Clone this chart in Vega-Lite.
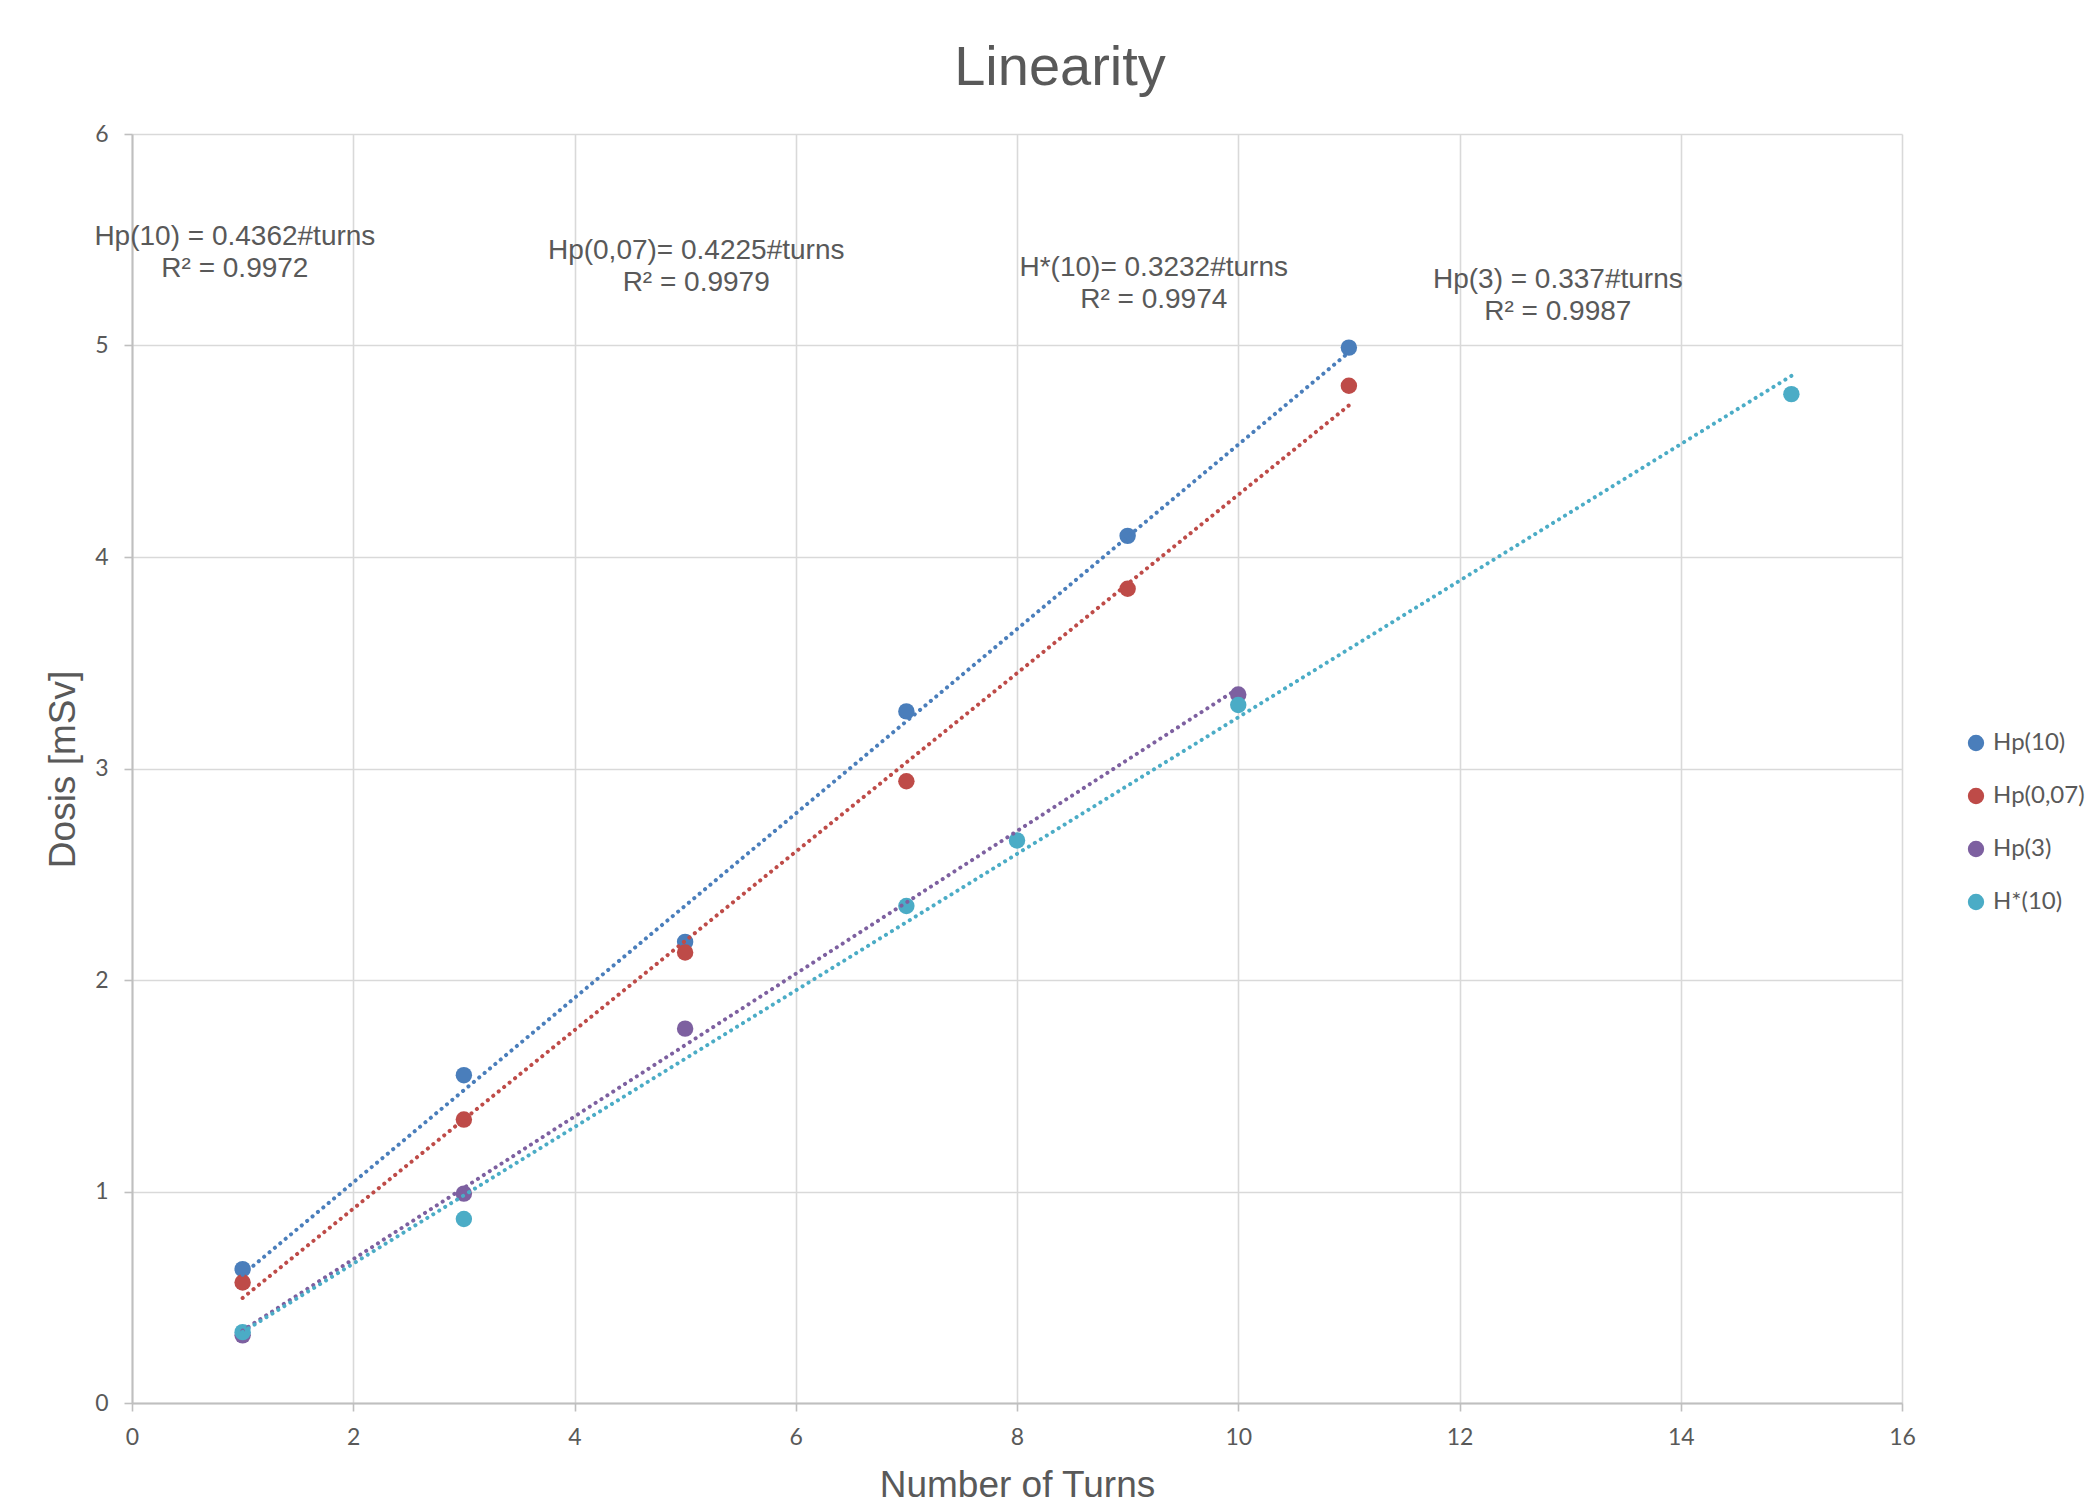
{
  "$schema": "https://vega.github.io/schema/vega-lite/v6.json",
  "autosize": "none",
  "width": 1770,
  "height": 1269,
  "padding": {"left": 132, "top": 134, "right": 197, "bottom": 100},
  "background": "white",
  "title": {
    "text": "Linearity",
    "font": "Liberation Sans",
    "fontSize": 56,
    "fontWeight": "normal",
    "color": "#595959",
    "anchor": "middle",
    "frame": "group",
    "dx": 43,
    "dy": 66,
    "baseline": "alphabetic",
    "offset": 48
  },
  "config": {
    "view": {"stroke": null},
    "axis": {
      "gridColor": "#d9d9d9",
      "gridWidth": 1.6,
      "domainColor": "#bfbfbf",
      "domainWidth": 2,
      "tickColor": "#bfbfbf",
      "tickWidth": 1.6,
      "tickSize": 8,
      "labelFont": "Lato",
      "labelFontSize": 23,
      "labelColor": "#595959",
      "labelFlush": false,
      "titleFont": "Liberation Sans",
      "titleFontSize": 37,
      "titleFontWeight": "normal",
      "titleColor": "#595959"
    }
  },
  "data": {
    "values": [
      {"Series": "Hp(10)", "Turns": 1, "Dose": 0.633},
      {"Series": "Hp(10)", "Turns": 3, "Dose": 1.55},
      {"Series": "Hp(10)", "Turns": 5, "Dose": 2.18},
      {"Series": "Hp(10)", "Turns": 7, "Dose": 3.27},
      {"Series": "Hp(10)", "Turns": 9, "Dose": 4.10},
      {"Series": "Hp(10)", "Turns": 11, "Dose": 4.99},
      {"Series": "Hp(0,07)", "Turns": 1, "Dose": 0.57},
      {"Series": "Hp(0,07)", "Turns": 3, "Dose": 1.34},
      {"Series": "Hp(0,07)", "Turns": 5, "Dose": 2.13},
      {"Series": "Hp(0,07)", "Turns": 7, "Dose": 2.94},
      {"Series": "Hp(0,07)", "Turns": 9, "Dose": 3.85},
      {"Series": "Hp(0,07)", "Turns": 11, "Dose": 4.81},
      {"Series": "Hp(3)", "Turns": 1, "Dose": 0.32},
      {"Series": "Hp(3)", "Turns": 3, "Dose": 0.99},
      {"Series": "Hp(3)", "Turns": 5, "Dose": 1.77},
      {"Series": "Hp(3)", "Turns": 10, "Dose": 3.35},
      {"Series": "H*(10)", "Turns": 1, "Dose": 0.335},
      {"Series": "H*(10)", "Turns": 3, "Dose": 0.87},
      {"Series": "H*(10)", "Turns": 7, "Dose": 2.35},
      {"Series": "H*(10)", "Turns": 8, "Dose": 2.66},
      {"Series": "H*(10)", "Turns": 10, "Dose": 3.30},
      {"Series": "H*(10)", "Turns": 15, "Dose": 4.77}
    ]
  },
  "layer": [
    {
      "mark": {"type": "circle", "size": 270, "opacity": 1},
      "encoding": {
        "x": {
          "field": "Turns", "type": "quantitative",
          "scale": {"domain": [0, 16], "nice": false},
          "axis": {"values": [0, 2, 4, 6, 8, 10, 12, 14, 16], "format": "d", "title": "Number of Turns", "labelPadding": 15, "titleX": 885, "titleY": 93, "titleBaseline": "alphabetic", "titleAnchor": null}
        },
        "y": {
          "field": "Dose", "type": "quantitative",
          "scale": {"domain": [0, 6], "nice": false},
          "axis": {"values": [0, 1, 2, 3, 4, 5, 6], "format": "d", "title": "Dosis [mSv]", "labelPadding": 16, "titleX": -69, "titleY": 635, "titleBaseline": "middle", "titleAlign": "center"}
        },
        "color": {
          "field": "Series", "type": "nominal",
          "scale": {"domain": ["Hp(10)", "Hp(0,07)", "Hp(3)", "H*(10)"], "range": ["#4a7ebb", "#be4b48", "#7d60a0", "#4bacc6"]},
          "legend": {
            "title": null,
            "orient": "none",
            "legendX": 1832,
            "legendY": 597,
            "padding": 0,
            "symbolType": "circle",
            "symbolSize": 220,
            "symbolOpacity": 1,
            "labelFont": "Lato",
            "labelFontSize": 24,
            "labelColor": "#595959",
            "labelOffset": 5,
            "rowPadding": 29
          }
        }
      }
    },
    {
      "transform": [{"regression": "Dose", "on": "Turns", "groupby": ["Series"]}],
      "mark": {"type": "line", "strokeWidth": 4, "strokeCap": "round", "strokeDash": [0.1, 6.9]},
      "encoding": {
        "x": {"field": "Turns", "type": "quantitative"},
        "y": {"field": "Dose", "type": "quantitative"},
        "color": {"field": "Series", "type": "nominal", "legend": null}
      }
    },
    {
      "data": {"values": [{}]},
      "mark": {"type": "text", "text": ["Hp(10) = 0.4362#turns", "R² = 0.9972"], "font": "Liberation Sans", "fontSize": 28, "lineHeight": 32, "fill": "#595959", "align": "center", "baseline": "middle"},
      "encoding": {"x": {"datum": 0.93}, "y": {"datum": 5.513}}
    },
    {
      "data": {"values": [{}]},
      "mark": {"type": "text", "text": ["Hp(0,07)= 0.4225#turns", "R² = 0.9979"], "font": "Liberation Sans", "fontSize": 28, "lineHeight": 32, "fill": "#595959", "align": "center", "baseline": "middle"},
      "encoding": {"x": {"datum": 5.1}, "y": {"datum": 5.448}}
    },
    {
      "data": {"values": [{}]},
      "mark": {"type": "text", "text": ["H*(10)= 0.3232#turns", "R² = 0.9974"], "font": "Liberation Sans", "fontSize": 28, "lineHeight": 32, "fill": "#595959", "align": "center", "baseline": "middle"},
      "encoding": {"x": {"datum": 9.236}, "y": {"datum": 5.368}}
    },
    {
      "data": {"values": [{}]},
      "mark": {"type": "text", "text": ["Hp(3) = 0.337#turns", "R² = 0.9987"], "font": "Liberation Sans", "fontSize": 28, "lineHeight": 32, "fill": "#595959", "align": "center", "baseline": "middle"},
      "encoding": {"x": {"datum": 12.889}, "y": {"datum": 5.311}}
    }
  ]
}
